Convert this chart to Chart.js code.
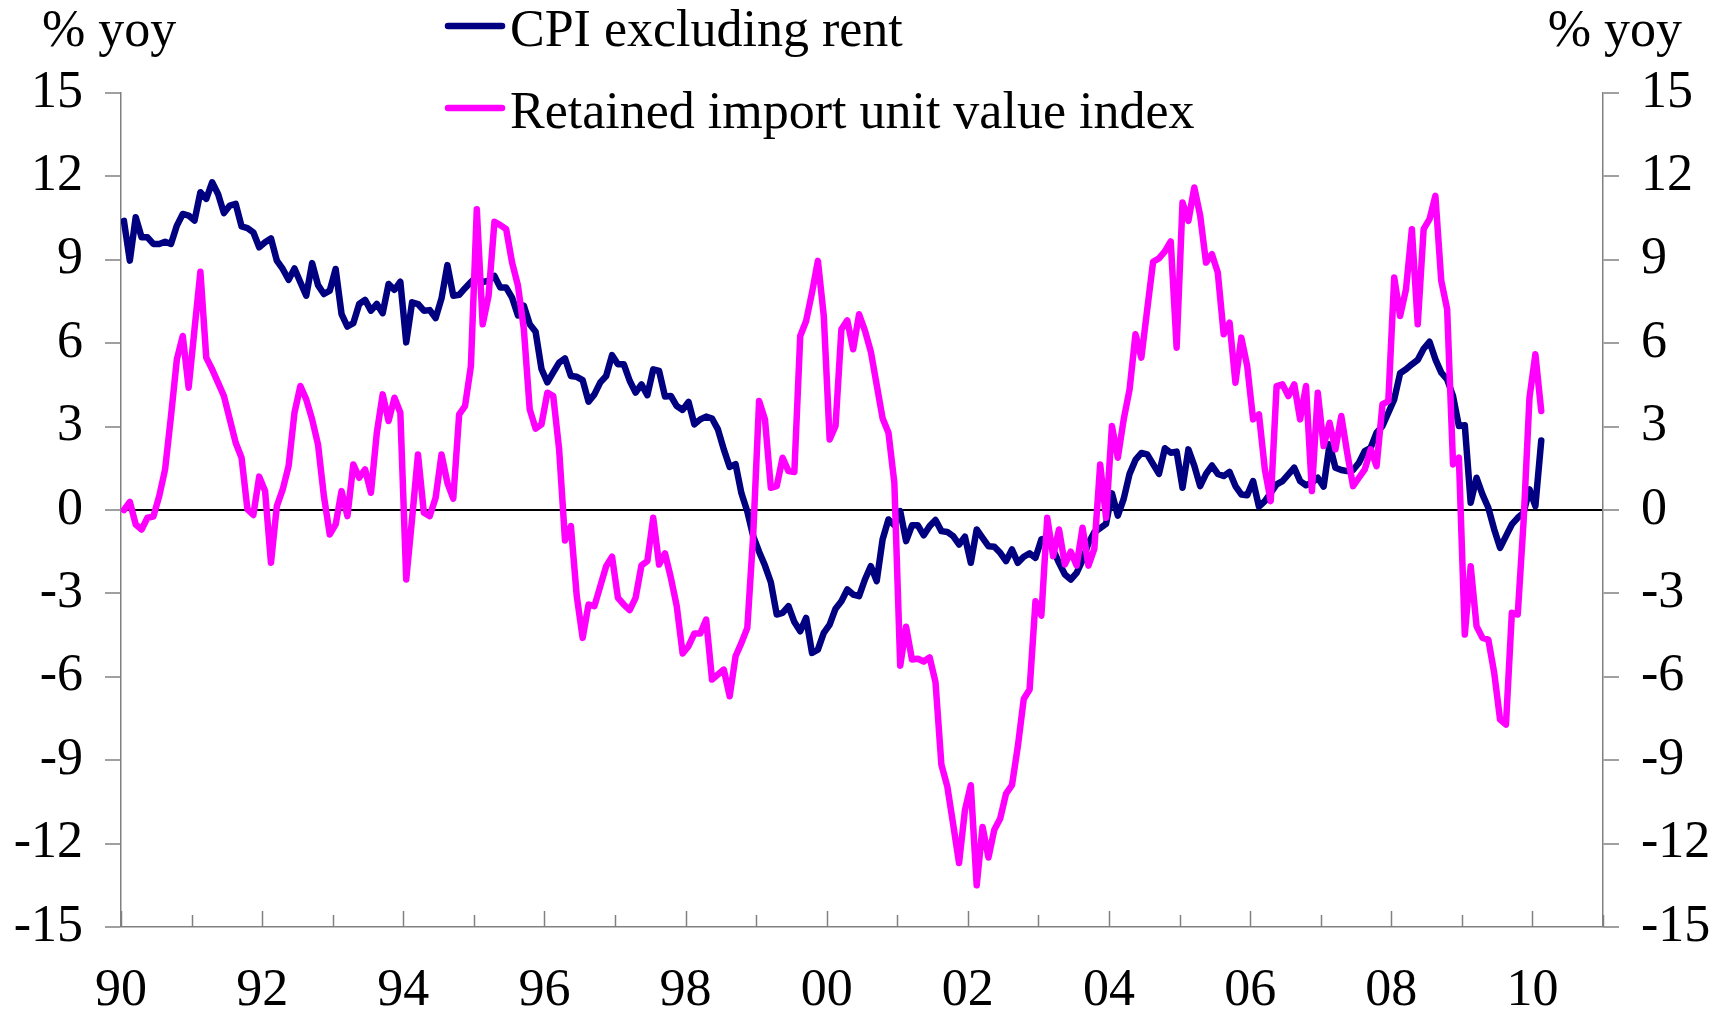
<!DOCTYPE html>
<html>
<head>
<meta charset="utf-8">
<script src="https://cdn.jsdelivr.net/npm/chart.js@4.4.1/dist/chart.umd.min.js"></script>
<style>
  html, body { margin: 0; padding: 0; background: #fff; }
  #wrap { width: 1722px; height: 1009px; position: relative; }
</style>
</head>
<body>
<div id="wrap"><canvas id="chart"></canvas></div>
<script>
// monthly series, Jan 1990 .. Feb 2010, % yoy
const startYear = 1990;

const cpiExRent = [
  10.4, 8.97, 10.53, 9.81, 9.81, 9.57, 9.57, 9.65, 9.57, 10.23, 10.65, 10.59,
  10.41, 11.43, 11.19, 11.79, 11.37, 10.68, 10.95, 11.01, 10.2, 10.14, 9.99, 9.45,
  9.63, 9.77, 8.97, 8.67, 8.28, 8.69, 8.19, 7.71, 8.88, 8.09, 7.77, 7.89,
  8.67, 7.05, 6.6, 6.72, 7.41, 7.56, 7.17, 7.41, 7.08, 8.13, 7.92, 8.21,
  6.03, 7.47, 7.41, 7.17, 7.19, 6.9, 7.61, 8.81, 7.71, 7.74, 7.98, 8.2,
  8.4, 8.2, 8.25, 8.42, 8.0, 8.0, 7.64, 7.0, 7.35, 6.68, 6.41, 5.07,
  4.59, 4.95, 5.3, 5.45, 4.82, 4.79, 4.67, 3.9, 4.16, 4.59, 4.82, 5.57,
  5.24, 5.24, 4.65, 4.22, 4.52, 4.13, 5.06, 5.0, 4.08, 4.1, 3.74, 3.6,
  3.89, 3.08, 3.26, 3.36, 3.29, 2.9, 2.18, 1.55, 1.65, 0.6, -0.05, -0.94,
  -1.5, -2.0, -2.6, -3.76, -3.7, -3.46, -4.03, -4.36, -3.88, -5.14, -5.02, -4.42,
  -4.12, -3.55, -3.28, -2.86, -3.04, -3.1, -2.5, -2.02, -2.56, -1.06, -0.34, -0.55,
  -0.04, -1.12, -0.55, -0.55, -0.91, -0.58, -0.36, -0.76, -0.79, -0.94, -1.24, -0.96,
  -1.9, -0.7, -1.0, -1.3, -1.32, -1.54, -1.84, -1.42, -1.9, -1.68, -1.56, -1.72,
  -1.06, -1.0, -1.42, -1.9, -2.32, -2.5, -2.26, -1.8, -1.2, -0.8, -0.65, -0.5,
  0.6, -0.2, 0.4, 1.3, 1.8, 2.05, 2.0, 1.65, 1.3, 2.22, 2.06, 2.1,
  0.8, 2.18, 1.6, 0.86, 1.3, 1.6, 1.3, 1.22, 1.37, 0.86, 0.56, 0.53,
  1.04, 0.12, 0.32, 0.62, 0.92, 1.04, 1.28, 1.52, 1.04, 0.89, 0.98, 1.16,
  0.84, 2.36, 1.52, 1.44, 1.4, 1.44, 1.7, 2.12, 2.24, 2.78, 3.02, 3.5,
  3.98, 4.92, 5.06, 5.24, 5.4, 5.8, 6.05, 5.42, 4.94, 4.7, 4.1, 3.02,
  3.05, 0.26, 1.16, 0.56, 0.08, -0.7, -1.36, -0.94, -0.52, -0.28, -0.1, 0.74,
  0.14, 2.5
];

const importUnitValue = [
  0.0, 0.29, -0.52, -0.7, -0.28, -0.24, 0.5, 1.46, 3.38, 5.42, 6.26, 4.4,
  6.5, 8.57, 5.48, 5.06, 4.58, 4.1, 3.26, 2.42, 1.88, 0.02, -0.18, 1.2,
  0.68, -1.9, 0.14, 0.74, 1.58, 3.5, 4.46, 3.98, 3.26, 2.36, 0.5, -0.88,
  -0.52, 0.68, -0.22, 1.64, 1.16, 1.46, 0.62, 2.78, 4.16, 3.2, 4.04, 3.5,
  -2.5, -0.3, 2.0, -0.1, -0.22, 0.44, 2.0, 0.98, 0.41, 3.44, 3.74, 5.18,
  10.82, 6.68, 7.7, 10.37, 10.25, 10.1, 8.9, 8.07, 6.5, 3.62, 2.93, 3.08,
  4.22, 4.1, 2.18, -1.1, -0.58, -3.1, -4.6, -3.4, -3.46, -2.74, -2.02, -1.68,
  -3.16, -3.4, -3.6, -3.16, -1.99, -1.84, -0.28, -1.96, -1.56, -2.44, -3.46, -5.16,
  -4.9, -4.44, -4.44, -3.94, -6.1, -5.92, -5.74, -6.7, -5.26, -4.78, -4.24, -0.9,
  3.92, 3.26, 0.8, 0.86, 1.88, 1.4, 1.37, 6.26, 6.8, 7.82, 8.96, 6.98,
  2.54, 3.02, 6.5, 6.82, 5.78, 7.04, 6.45, 5.7, 4.5, 3.3, 2.78, 0.98,
  -5.6, -4.2, -5.38, -5.35, -5.45, -5.3, -6.2, -9.16, -9.94, -11.3, -12.7, -10.8,
  -9.9, -13.5, -11.4, -12.5, -11.5, -11.1, -10.2, -9.9, -8.5, -6.8, -6.46, -3.28,
  -3.8, -0.28, -1.66, -0.7, -1.96, -1.5, -2.0, -0.64, -2.0, -1.4, 1.64, -0.28,
  3.02, 1.88, 3.26, 4.34, 6.32, 5.48, 7.22, 8.93, 9.05, 9.3, 9.66, 5.84,
  11.06, 10.4, 11.6, 10.6, 8.9, 9.2, 8.54, 6.32, 6.74, 4.58, 6.2, 5.18,
  3.26, 3.44, 1.46, 0.32, 4.46, 4.52, 4.1, 4.52, 3.26, 4.46, 0.68, 4.22,
  2.3, 3.14, 2.18, 3.38, 2.06, 0.86, 1.16, 1.46, 2.18, 1.58, 3.8, 3.92,
  8.36, 6.98, 7.94, 10.1, 6.68, 10.1, 10.46, 11.3, 8.24, 7.22, 1.64, 1.88,
  -4.48, -2.02, -4.18, -4.6, -4.66, -5.86, -7.54, -7.72, -3.7, -3.76, -0.4, 4.04,
  5.6, 3.56
];

const seriesNames = ["CPI excluding rent", "Retained import unit value index"];
const seriesColors = ["#000080", "#ff00ff"];
const axisTitle = "% yoy";

// each month sits in the middle of its slot on a year axis
const months = cpiExRent.map((_, i) => startYear + (i + 0.5) / 12);

const FONT_FAMILY = '"Liberation Serif", "Times New Roman", serif';
const FONT_SIZE = 52;
const AXIS = "#808080";
const LINE_W = 6.5;

Chart.defaults.font.family = FONT_FAMILY;
Chart.defaults.font.size = FONT_SIZE;
Chart.defaults.color = "#000";

const overlay = {
  id: "overlay",
  afterDraw(chart) {
    const ctx = chart.ctx;
    ctx.save();
    ctx.font = FONT_SIZE + "px " + FONT_FAMILY;
    ctx.fillStyle = "#000";
    ctx.textBaseline = "middle";
    ctx.textAlign = "left";
    ctx.fillText(axisTitle, 42, 32);
    ctx.textAlign = "right";
    ctx.fillText(axisTitle, 1682, 32);

    // legend, one item per row
    chart.data.datasets.forEach((ds, k) => {
      const y = 26 + k * 82;
      ctx.strokeStyle = ds.borderColor;
      ctx.lineWidth = LINE_W;
      ctx.lineCap = "round";
      ctx.beginPath();
      ctx.moveTo(448, y);
      ctx.lineTo(502, y);
      ctx.stroke();
      ctx.textAlign = "left";
      ctx.fillText(ds.label, 510, y + 6);
    });
    ctx.restore();
  }
};

// year tick marks pointing up into the plot, longer on labelled years
const xTickMarks = {
  id: "xTickMarks",
  beforeDatasetsDraw(chart) {
    const xs = chart.scales.x;
    const ctx = chart.ctx;
    const bottom = chart.chartArea.bottom;
    ctx.save();
    ctx.strokeStyle = AXIS;
    ctx.lineWidth = 1.5;
    xs.ticks.forEach(t => {
      const px = Math.round(xs.getPixelForValue(t.value)) + 0.5;
      const len = t.value % 2 === 0 ? 16 : 12;
      ctx.beginPath();
      ctx.moveTo(px, bottom);
      ctx.lineTo(px, bottom - len);
      ctx.stroke();
    });
    ctx.restore();
  }
};

const yAxis = (position) => ({
  type: "linear",
  position: position,
  min: -15,
  max: 15,
  afterFit(scale) { scale.width = position === "left" ? 121 : 119; },
  ticks: {
    stepSize: 3,
    padding: 22,
    callback: v => String(v)
  },
  grid: {
    drawOnChartArea: position === "left",
    color: c => (c.tick && c.tick.value === 0 ? "#000" : "rgba(0,0,0,0)"),
    lineWidth: c => (c.tick && c.tick.value === 0 ? 2 : 0),
    tickColor: AXIS,
    tickWidth: 1.5,
    tickLength: 16
  },
  border: { color: AXIS, width: 1.5 }
});

new Chart(document.getElementById("chart"), {
  type: "line",
  data: {
    datasets: [
      {
        label: seriesNames[0],
        data: months.map((x, i) => ({ x: x, y: cpiExRent[i] })),
        borderColor: seriesColors[0],
        borderWidth: LINE_W,
        order: 2
      },
      {
        label: seriesNames[1],
        data: months.map((x, i) => ({ x: x, y: importUnitValue[i] })),
        borderColor: seriesColors[1],
        borderWidth: LINE_W,
        order: 1
      }
    ]
  },
  options: {
    responsive: true,
    maintainAspectRatio: false,
    animation: false,
    layout: { padding: { top: 93, left: 0, right: 0, bottom: 0 } },
    elements: {
      line: { tension: 0, borderCapStyle: "round", borderJoinStyle: "round" },
      point: { radius: 0 }
    },
    plugins: {
      legend: { display: false },
      tooltip: { enabled: false }
    },
    scales: {
      x: {
        type: "linear",
        position: "bottom",
        min: 1990,
        max: 2011,
        afterFit(scale) { scale.height = 82; },
        ticks: {
          stepSize: 1,
          autoSkip: false,
          maxRotation: 0,
          padding: 25,
          callback: v => (v % 2 === 0 ? String(v % 100).padStart(2, "0") : "")
        },
        grid: { display: false },
        border: { color: AXIS, width: 1.5 }
      },
      y: yAxis("left"),
      y2: yAxis("right")
    }
  },
  plugins: [overlay, xTickMarks]
});
</script>
</body>
</html>
